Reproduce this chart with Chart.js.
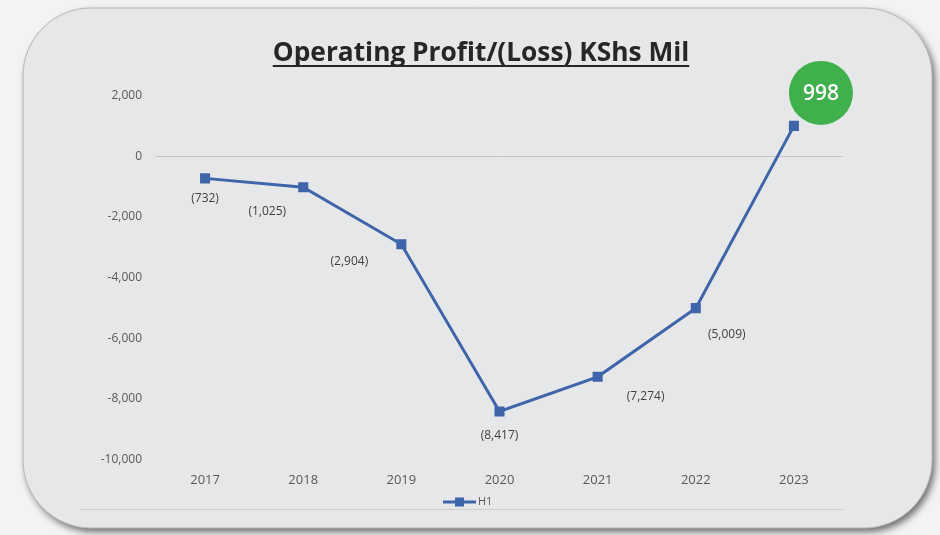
<!DOCTYPE html>
<html><head><meta charset="utf-8">
<script src="https://cdn.jsdelivr.net/npm/chart.js@4/dist/chart.umd.min.js"></script>
<style>html,body{margin:0;padding:0;background:#f3f3f3;}#wrap{width:940px;height:535px;position:relative;}</style>
</head><body><div id="wrap"><canvas id="c" width="940" height="535"></canvas></div>
<script>
const titleText = 'Operating Profit/(Loss) KShs Mil';
const seriesName = 'H1';
const years = ['2017','2018','2019','2020','2021','2022','2023'];
const profit = [-732, -1025, -2904, -8417, -7274, -5009, 998];
const yMin = -10000, yMax = 2000, yStep = 2000;

const FONT = '"Open Sans", "DejaVu Sans", sans-serif';
const BLUE = '#3e64aa';

function fmt(v){ const s = Math.abs(v).toLocaleString('en-US'); return v < 0 ? '(' + s + ')' : s; }

function roundRect(ctx, x, y, w, h, r){
  ctx.beginPath();
  ctx.moveTo(x+r, y); ctx.lineTo(x+w-r, y); ctx.arcTo(x+w, y, x+w, y+r, r);
  ctx.lineTo(x+w, y+h-r); ctx.arcTo(x+w, y+h, x+w-r, y+h, r);
  ctx.lineTo(x+r, y+h); ctx.arcTo(x, y+h, x, y+h-r, r);
  ctx.lineTo(x, y+r); ctx.arcTo(x, y, x+r, y, r); ctx.closePath();
}

const decor = {
  id: 'decor',
  beforeDraw(chart){
    const ctx = chart.ctx;
    ctx.save();
    ctx.fillStyle = '#f3f3f3'; ctx.fillRect(0,0,chart.width,chart.height);
    ctx.shadowColor = 'rgba(0,0,0,0.55)'; ctx.shadowBlur = 7; ctx.shadowOffsetX = 3; ctx.shadowOffsetY = 4;
    roundRect(ctx, 23, 8, 909, 520, 68);
    ctx.fillStyle = '#e6e7e9'; ctx.fill();
    ctx.shadowColor = 'transparent';
    ctx.strokeStyle = '#b8b8b8'; ctx.lineWidth = 1; ctx.stroke();
    ctx.restore();
  },
  afterDraw(chart){
    const ctx = chart.ctx;
    ctx.save();
    // title
    ctx.font = 'bold 22px ' + FONT;
    let w = ctx.measureText(titleText).width;
    const size = 22 * 417 / w;
    ctx.font = 'bold ' + size.toFixed(1) + 'px ' + FONT;
    w = ctx.measureText(titleText).width;
    ctx.fillStyle = '#262626'; ctx.textAlign = 'center'; ctx.textBaseline = 'alphabetic';
    ctx.fillText(titleText, 481, 61);
    ctx.fillRect(481 - w/2, 65, w, 2);
    // bottom divider line
    ctx.strokeStyle = '#cfcfd1'; ctx.lineWidth = 1;
    ctx.beginPath(); ctx.moveTo(80, 509.5); ctx.lineTo(845, 509.5); ctx.stroke();
    // legend
    const lx = 443, ly = 502;
    ctx.strokeStyle = BLUE; ctx.lineWidth = 3;
    ctx.beginPath(); ctx.moveTo(lx, ly); ctx.lineTo(lx+33, ly); ctx.stroke();
    ctx.fillStyle = BLUE; ctx.fillRect(lx+12, ly-4.5, 9, 9);
    ctx.font = '11px ' + FONT; ctx.fillStyle = '#595959'; ctx.textAlign = 'left'; ctx.textBaseline = 'middle';
    ctx.fillText(seriesName, lx+35, ly);
    ctx.restore();
  },
  afterDatasetsDraw(chart, args, opts){
    const ctx = chart.ctx;
    const meta = chart.getDatasetMeta(0);
    const data = chart.data.datasets[0].data;
    ctx.save();
    meta.data.forEach((pt, i) => {
      const off = opts.offsets[i];
      const x = pt.x + off[0], y = pt.y + off[1];
      if (data[i] >= 0) {
        ctx.beginPath(); ctx.arc(x, y, 32, 0, Math.PI*2);
        ctx.fillStyle = '#3fb04c'; ctx.fill();
        ctx.fillStyle = '#ffffff'; ctx.font = '600 21px ' + FONT;
        ctx.textAlign = 'center'; ctx.textBaseline = 'middle';
        ctx.fillText(fmt(data[i]), x, y + 1);
      } else {
        ctx.fillStyle = '#404040'; ctx.font = '12px ' + FONT;
        ctx.textAlign = 'center'; ctx.textBaseline = 'middle';
        ctx.fillText(fmt(data[i]), x, y);
      }
    });
    ctx.restore();
  }
};

new Chart(document.getElementById('c'), {
  type: 'line',
  data: {
    labels: years,
    datasets: [{
      label: seriesName,
      data: profit,
      borderColor: BLUE,
      backgroundColor: BLUE,
      borderWidth: 3,
      pointStyle: 'rect',
      pointRadius: 5,
      pointHoverRadius: 5,
      tension: 0,
      fill: false
    }]
  },
  options: {
    responsive: false,
    animation: false,
    events: [],
    layout: { padding: { left: 70, right: 97, top: 95.5, bottom: 35.5 } },
    plugins: {
      legend: { display: false },
      tooltip: { enabled: false },
      decor: { offsets: [[0,20],[-36,24],[-52,17],[0,24],[48,20],[31,26],[27,-33]] }
    },
    scales: {
      x: {
        offset: true,
        grid: { display: false, drawTicks: false },
        border: { display: false },
        ticks: { color: '#595959', font: { family: FONT, size: 13 }, padding: 13 },
        afterFit(s){ s.height = 40; }
      },
      y: {
        min: yMin, max: yMax,
        grid: {
          drawTicks: false,
          color: ctx => (ctx.tick && ctx.tick.value === 0) ? '#c6c6c8' : 'rgba(0,0,0,0)',
          lineWidth: 1
        },
        border: { display: false },
        ticks: {
          stepSize: yStep, color: '#595959', font: { family: FONT, size: 12 }, padding: 14,
          callback: v => v.toLocaleString('en-US')
        },
        afterFit(s){ s.width = 86; }
      }
    }
  },
  plugins: [decor]
});
</script>
</body></html>
